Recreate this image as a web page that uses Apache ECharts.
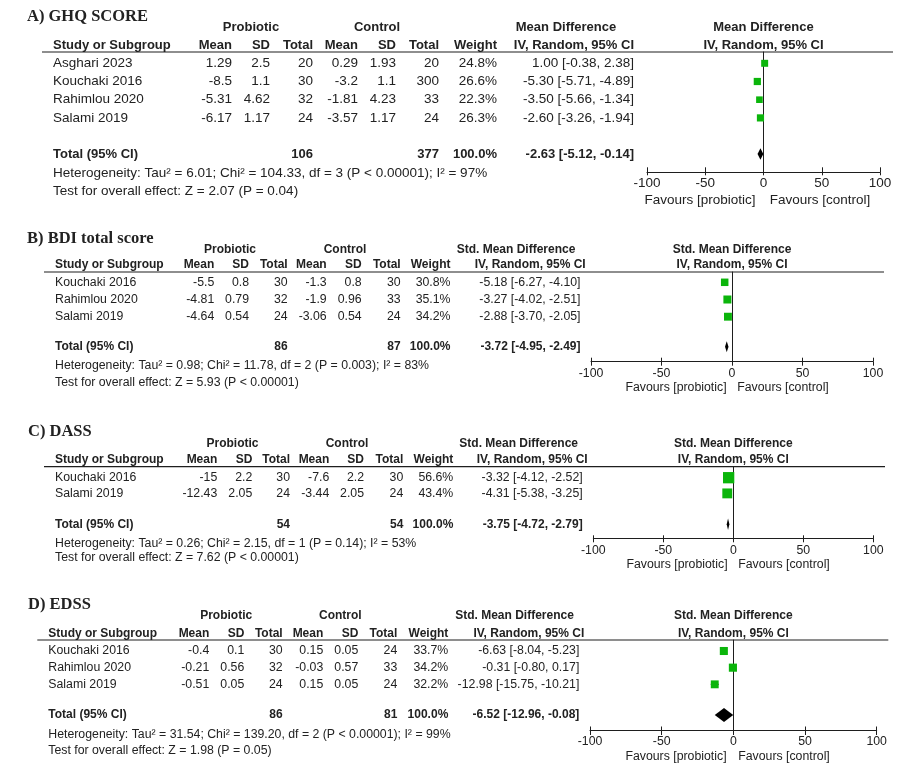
<!DOCTYPE html>
<html><head><meta charset="utf-8">
<script src="https://cdn.jsdelivr.net/npm/echarts@6/dist/echarts.min.js"></script>
<style>html,body{margin:0;padding:0;background:#fff}#c{width:909px;height:780px}</style>
</head><body><div id="c"></div>
<script>
// ---------------- DATA ----------------
const tickLabels = [-100, -50, 0, 50, 100];

// A) GHQ SCORE
const ghqTitle = 'A) GHQ SCORE';
const ghqEffect = 'Mean Difference';
const ghqStudies = ['Asghari 2023', 'Kouchaki 2016', 'Rahimlou 2020', 'Salami 2019'];
const ghqProbMean = [1.29, -8.5, -5.31, -6.17];
const ghqProbSD = [2.5, 1.1, 4.62, 1.17];
const ghqProbN = [20, 30, 32, 24];
const ghqCtrlMean = [0.29, -3.2, -1.81, -3.57];
const ghqCtrlSD = [1.93, 1.1, 4.23, 1.17];
const ghqCtrlN = [20, 300, 33, 24];
const ghqWeight = [24.8, 26.6, 22.3, 26.3];
const ghqEst = [1.00, -5.30, -3.50, -2.60];
const ghqLo = [-0.38, -5.71, -5.66, -3.26];
const ghqHi = [2.38, -4.89, -1.34, -1.94];
const ghqTotals = [106, 377];
const ghqPooled = [-2.63, -5.12, -0.14];
const ghqHet = 'Heterogeneity: Tau² = 6.01; Chi² = 104.33, df = 3 (P < 0.00001); I² = 97%';
const ghqTest = 'Test for overall effect: Z = 2.07 (P = 0.04)';

// B) BDI total score
const bdiTitle = 'B) BDI total score';
const bdiEffect = 'Std. Mean Difference';
const bdiStudies = ['Kouchaki 2016', 'Rahimlou 2020', 'Salami 2019'];
const bdiProbMean = [-5.5, -4.81, -4.64];
const bdiProbSD = [0.8, 0.79, 0.54];
const bdiProbN = [30, 32, 24];
const bdiCtrlMean = [-1.3, -1.9, -3.06];
const bdiCtrlSD = [0.8, 0.96, 0.54];
const bdiCtrlN = [30, 33, 24];
const bdiWeight = [30.8, 35.1, 34.2];
const bdiEst = [-5.18, -3.27, -2.88];
const bdiLo = [-6.27, -4.02, -3.70];
const bdiHi = [-4.10, -2.51, -2.05];
const bdiTotals = [86, 87];
const bdiPooled = [-3.72, -4.95, -2.49];
const bdiHet = 'Heterogeneity: Tau² = 0.98; Chi² = 11.78, df = 2 (P = 0.003); I² = 83%';
const bdiTest = 'Test for overall effect: Z = 5.93 (P < 0.00001)';

// C) DASS
const dassTitle = 'C) DASS';
const dassEffect = 'Std. Mean Difference';
const dassStudies = ['Kouchaki 2016', 'Salami 2019'];
const dassProbMean = [-15, -12.43];
const dassProbSD = [2.2, 2.05];
const dassProbN = [30, 24];
const dassCtrlMean = [-7.6, -3.44];
const dassCtrlSD = [2.2, 2.05];
const dassCtrlN = [30, 24];
const dassWeight = [56.6, 43.4];
const dassEst = [-3.32, -4.31];
const dassLo = [-4.12, -5.38];
const dassHi = [-2.52, -3.25];
const dassTotals = [54, 54];
const dassPooled = [-3.75, -4.72, -2.79];
const dassHet = 'Heterogeneity: Tau² = 0.26; Chi² = 2.15, df = 1 (P = 0.14); I² = 53%';
const dassTest = 'Test for overall effect: Z = 7.62 (P < 0.00001)';

// D) EDSS
const edssTitle = 'D) EDSS';
const edssEffect = 'Std. Mean Difference';
const edssStudies = ['Kouchaki 2016', 'Rahimlou 2020', 'Salami 2019'];
const edssProbMean = [-0.4, -0.21, -0.51];
const edssProbSD = [0.1, 0.56, 0.05];
const edssProbN = [30, 32, 24];
const edssCtrlMean = [0.15, -0.03, 0.15];
const edssCtrlSD = [0.05, 0.57, 0.05];
const edssCtrlN = [24, 33, 24];
const edssWeight = [33.7, 34.2, 32.2];
const edssEst = [-6.63, -0.31, -12.98];
const edssLo = [-8.04, -0.80, -15.75];
const edssHi = [-5.23, 0.17, -10.21];
const edssTotals = [86, 81];
const edssPooled = [-6.52, -12.96, -0.08];
const edssHet = 'Heterogeneity: Tau² = 31.54; Chi² = 139.20, df = 2 (P < 0.00001); I² = 99%';
const edssTest = 'Test for overall effect: Z = 1.98 (P = 0.05)';

// Header labels
const groupHeads = ['Probiotic', 'Control'];
const colHeads = ['Study or Subgroup', 'Mean', 'SD', 'Total', 'Mean', 'SD', 'Total', 'Weight'];
const ciHead = 'IV, Random, 95% CI';
const totalLabel = 'Total (95% CI)';
const totalWeightLabel = '100.0%';
const favLabels = ['Favours [probiotic]', 'Favours [control]'];

// ---------------- ASSEMBLY ----------------
const panels = [
  {title: ghqTitle, effect: ghqEffect, studies: ghqStudies, pm: ghqProbMean, psd: ghqProbSD, pn: ghqProbN,
   cm: ghqCtrlMean, csd: ghqCtrlSD, cn: ghqCtrlN, w: ghqWeight, est: ghqEst, lo: ghqLo, hi: ghqHi,
   totals: ghqTotals, pooled: ghqPooled, het: ghqHet, test: ghqTest},
  {title: bdiTitle, effect: bdiEffect, studies: bdiStudies, pm: bdiProbMean, psd: bdiProbSD, pn: bdiProbN,
   cm: bdiCtrlMean, csd: bdiCtrlSD, cn: bdiCtrlN, w: bdiWeight, est: bdiEst, lo: bdiLo, hi: bdiHi,
   totals: bdiTotals, pooled: bdiPooled, het: bdiHet, test: bdiTest},
  {title: dassTitle, effect: dassEffect, studies: dassStudies, pm: dassProbMean, psd: dassProbSD, pn: dassProbN,
   cm: dassCtrlMean, csd: dassCtrlSD, cn: dassCtrlN, w: dassWeight, est: dassEst, lo: dassLo, hi: dassHi,
   totals: dassTotals, pooled: dassPooled, het: dassHet, test: dassTest},
  {title: edssTitle, effect: edssEffect, studies: edssStudies, pm: edssProbMean, psd: edssProbSD, pn: edssProbN,
   cm: edssCtrlMean, csd: edssCtrlSD, cn: edssCtrlN, w: edssWeight, est: edssEst, lo: edssLo, hi: edssHi,
   totals: edssTotals, pooled: edssPooled, het: edssHet, test: edssTest}
];

// ---------------- LAYOUT / STYLE ----------------
const layouts = [
  {titleX: 27, titleY: 17, h1Y: 27, h2Y: 45, lineY: 52, lineX: [42, 893], rowY0: 63.3, rowStep: 18.2, totalGap: 1.98,
   hetY: 173.3, testY: 191.7, axisY: 172.3, axisX: [647, 880], favY: 200, favX: [700, 820],
   cols: [53, 232, 270, 313, 358, 396, 439, 497], ciHeadX: 634, ciDataX: 634, h1X: [251, 377, 566],
   font: 13.5, boldFont: 13, tickIn: 5, tickOut: 3, labelMargin: 4, sq: 1.4, dh: 11.5},
  {titleX: 27, titleY: 238.3, h1Y: 249.3, h2Y: 265, lineY: 272, lineX: [44, 884], rowY0: 282.3, rowStep: 17.2, totalGap: 1.74,
   hetY: 365.7, testY: 382.3, axisY: 361.7, axisX: [591, 873], favY: 388, favX: [676, 783],
   cols: [55, 214.3, 249, 287.7, 326.7, 361.7, 400.7, 450.5], ciHeadX: 585.7, ciDataX: 580.5, h1X: [230, 345, 516],
   font: 12.3, boldFont: 12, tickIn: 4, tickOut: 4, labelMargin: 6, sq: 1.35, dh: 11},
  {titleX: 28, titleY: 431.7, h1Y: 443.3, h2Y: 460, lineY: 466.7, lineX: [44, 885], rowY0: 477.7, rowStep: 15.7, totalGap: 1.97,
   hetY: 543.3, testY: 557.7, axisY: 538.3, axisX: [593.3, 873.3], favY: 564.3, favX: [677, 784],
   cols: [55, 217.3, 252.3, 290, 329.3, 364, 403.3, 453.3], ciHeadX: 587.7, ciDataX: 582.7, h1X: [232.5, 347, 518.7],
   font: 12.3, boldFont: 12, tickIn: 3, tickOut: 4, labelMargin: 6, sq: 1.5, dh: 11.5},
  {titleX: 28, titleY: 605, h1Y: 616, h2Y: 633.3, lineY: 640, lineX: [37.3, 888.3], rowY0: 651, rowStep: 16.67, totalGap: 1.84,
   hetY: 734.3, testY: 751, axisY: 730, axisX: [590, 876.7], favY: 756.7, favX: [676, 784],
   cols: [48.3, 209.3, 244.3, 282.7, 323.3, 358.3, 397.3, 448.3], ciHeadX: 584.3, ciDataX: 579.3, h1X: [226.2, 340.3, 514.5],
   font: 12.3, boldFont: 12, tickIn: 3.5, tickOut: 5, labelMargin: 6, sq: 1.39, dh: 14}
];

const GREEN = '#0bb50b';
const TXT = '#222222';
const LINE = '#1e1e1e';
const SANS = "'Liberation Sans', Arial, Helvetica, sans-serif";
const SERIF = "'Liberation Serif', 'Times New Roman', serif";

function fmtCI(e, l, h) { return e.toFixed(2) + ' [' + l.toFixed(2) + ', ' + h.toFixed(2) + ']'; }

const graphics = [];
function T(text, x, y, align, size, bold, family) {
  graphics.push({
    type: 'text', silent: true, z: 10,
    style: {
      text: String(text), x: x, y: y,
      align: align, textAlign: align, verticalAlign: 'middle', textVerticalAlign: 'middle',
      fill: TXT,
      font: (bold ? 'bold ' : 'normal ') + size + 'px ' + (family || SANS)
    }
  });
}
function HL(x1, x2, y) {
  graphics.push({type: 'line', silent: true, z: 10,
    shape: {x1: x1, y1: y, x2: x2, y2: y}, style: {stroke: LINE, lineWidth: 1.2}});
}

const grids = [], xAxes = [], yAxes = [], series = [];

panels.forEach(function (p, i) {
  const L = layouts[i];
  const n = p.studies.length;
  const totalPos = (n - 1) + L.totalGap;
  const rowY = function (k) { return L.rowY0 + k * L.rowStep; };
  const plotMid = (L.axisX[0] + L.axisX[1]) / 2;

  // --- table text ---
  T(p.title, L.titleX, L.titleY, 'left', 16.5, true, SERIF);
  T(groupHeads[0], L.h1X[0], L.h1Y, 'center', L.boldFont, true);
  T(groupHeads[1], L.h1X[1], L.h1Y, 'center', L.boldFont, true);
  T(p.effect, L.h1X[2], L.h1Y, 'center', L.boldFont, true);
  T(p.effect, plotMid, L.h1Y, 'center', L.boldFont, true);
  T(colHeads[0], L.cols[0], L.h2Y, 'left', L.boldFont, true);
  for (let c = 1; c < colHeads.length; c++) T(colHeads[c], L.cols[c], L.h2Y, 'right', L.boldFont, true);
  T(ciHead, L.ciHeadX, L.h2Y, 'right', L.boldFont, true);
  T(ciHead, plotMid, L.h2Y, 'center', L.boldFont, true);
  HL(L.lineX[0], L.lineX[1], L.lineY);

  for (let k = 0; k < n; k++) {
    const y = rowY(k);
    T(p.studies[k], L.cols[0], y, 'left', L.font, false);
    T(p.pm[k], L.cols[1], y, 'right', L.font, false);
    T(p.psd[k], L.cols[2], y, 'right', L.font, false);
    T(p.pn[k], L.cols[3], y, 'right', L.font, false);
    T(p.cm[k], L.cols[4], y, 'right', L.font, false);
    T(p.csd[k], L.cols[5], y, 'right', L.font, false);
    T(p.cn[k], L.cols[6], y, 'right', L.font, false);
    T(p.w[k].toFixed(1) + '%', L.cols[7], y, 'right', L.font, false);
    T(fmtCI(p.est[k], p.lo[k], p.hi[k]), L.ciDataX, y, 'right', L.font, false);
  }
  const ty = rowY(totalPos);
  T(totalLabel, L.cols[0], ty, 'left', L.boldFont, true);
  T(p.totals[0], L.cols[3], ty, 'right', L.boldFont, true);
  T(p.totals[1], L.cols[6], ty, 'right', L.boldFont, true);
  T(totalWeightLabel, L.cols[7], ty, 'right', L.boldFont, true);
  T(fmtCI(p.pooled[0], p.pooled[1], p.pooled[2]), L.ciDataX, ty, 'right', L.boldFont, true);
  T(p.het, L.cols[0], L.hetY, 'left', L.font, false);
  T(p.test, L.cols[0], L.testY, 'left', L.font, false);
  T(favLabels[0], L.favX[0], L.favY, 'center', L.font, false);
  T(favLabels[1], L.favX[1], L.favY, 'center', L.font, false);

  // --- forest plot coordinate system ---
  grids.push({left: L.axisX[0], top: L.lineY, width: L.axisX[1] - L.axisX[0], height: L.axisY - L.lineY});
  const xmin = tickLabels[0], xmax = tickLabels[tickLabels.length - 1], xint = tickLabels[1] - tickLabels[0];
  xAxes.push({
    gridIndex: i, type: 'value', position: 'bottom', min: xmin, max: xmax, interval: xint,
    axisLine: {show: true, onZero: false, lineStyle: {color: LINE, width: 1}},
    axisTick: {show: true, inside: false, length: L.tickOut, lineStyle: {color: LINE, width: 1}},
    axisLabel: {show: true, margin: L.labelMargin, color: TXT, fontSize: L.font, fontFamily: SANS},
    splitLine: {show: false}
  });
  xAxes.push({
    gridIndex: i, type: 'value', position: 'bottom', min: xmin, max: xmax, interval: xint,
    axisLine: {show: false, onZero: false},
    axisTick: {show: true, inside: true, length: L.tickIn, lineStyle: {color: LINE, width: 1}},
    axisLabel: {show: false}, splitLine: {show: false}
  });
  yAxes.push({
    gridIndex: i, type: 'value', inverse: true,
    min: (L.lineY - L.rowY0) / L.rowStep, max: (L.axisY - L.rowY0) / L.rowStep,
    axisLine: {show: true, onZero: true, lineStyle: {color: LINE, width: 1}},
    axisTick: {show: false}, axisLabel: {show: false}, splitLine: {show: false}
  });

  const sqData = p.studies.map(function (s, k) { return [p.est[k], k, p.lo[k], p.hi[k], p.w[k]]; });
  const sqScale = L.sq;
  series.push({
    type: 'custom', xAxisIndex: 2 * i, yAxisIndex: i, clip: false, silent: true, z: 5,
    encode: {x: 0, y: 1},
    data: sqData,
    renderItem: function (params, api) {
      const yv = api.value(1);
      const c = api.coord([api.value(0), yv]);
      const l = api.coord([api.value(2), yv]);
      const h = api.coord([api.value(3), yv]);
      const s = sqScale * Math.sqrt(api.value(4));
      return {type: 'group', children: [
        {type: 'line', shape: {x1: l[0], y1: c[1], x2: h[0], y2: c[1]}, style: {stroke: '#111', lineWidth: 1}},
        {type: 'rect', shape: {x: c[0] - s / 2, y: c[1] - s / 2, width: s, height: s}, style: {fill: GREEN}}
      ]};
    }
  });
  const dh = L.dh;
  series.push({
    type: 'custom', xAxisIndex: 2 * i, yAxisIndex: i, clip: false, silent: true, z: 6,
    encode: {x: 0, y: 1},
    data: [[p.pooled[0], totalPos, p.pooled[1], p.pooled[2]]],
    renderItem: function (params, api) {
      const yv = api.value(1);
      const c = api.coord([api.value(0), yv]);
      const l = api.coord([api.value(2), yv]);
      const h = api.coord([api.value(3), yv]);
      return {type: 'polygon',
        shape: {points: [[l[0], c[1]], [c[0], c[1] - dh / 2], [h[0], c[1]], [c[0], c[1] + dh / 2]]},
        style: {fill: '#000'}};
    }
  });
});

const chart = echarts.init(document.getElementById('c'), null, {renderer: 'canvas'});
chart.setOption({
  animation: false,
  backgroundColor: '#ffffff',
  grid: grids, xAxis: xAxes, yAxis: yAxes, series: series,
  graphic: {elements: graphics}
});
</script></body></html>
